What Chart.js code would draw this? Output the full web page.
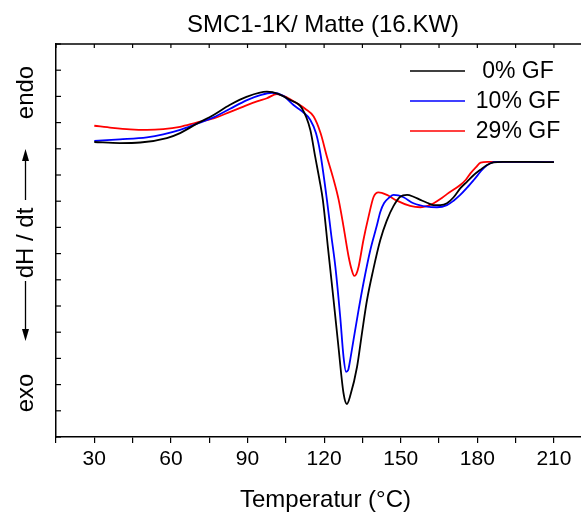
<!DOCTYPE html>
<html><head><meta charset="utf-8">
<script src="https://cdn.jsdelivr.net/npm/chart.js@4/dist/chart.umd.min.js"></script>
<style>html,body{margin:0;padding:0;background:#fff;}#wrap{width:581px;height:514px;}</style>
</head><body><div id="wrap"><canvas id="c" width="581" height="514"></canvas></div>
<script>
const titleText = 'SMC1-1K/ Matte (16.KW)';
const xTitleText = 'Temperatur (°C)';
const yLabelTop = 'endo';
const yLabelMid = 'dH / dt';
const yLabelBottom = 'exo';
const seriesLabels = ['0% GF', '10% GF', '29% GF'];
const seriesColors = ['#000000', '#0000ff', '#ff0000'];
const xTickLabels = [30, 60, 90, 120, 150, 180, 210];

// 0% GF
const temp0 = [30,40,48,58.4,63.6,70,76.7,83,89.8,97.6,102,106.7,111.3,114.6,116.5,118.2,119.5,121.5,123.7,125.5,127.6,128.9,130.3,132.9,134.8,136.8,139.2,142,144.5,147.2,149.8,152.5,155,157.7,160.3,162.9,165.5,168.1,170.7,173.3,176,178.6,181.2,183.8,186.4,190,200,210];
const dh0   = [11.26,11.22,11.24,11.41,11.60,11.95,12.29,12.67,12.99,13.18,13.10,12.86,12.55,11.72,10.70,9.81,9.05,7.23,5.23,3.55,1.67,1.26,1.60,2.68,3.95,5.23,6.37,7.52,8.25,8.82,9.17,9.24,9.17,9.05,8.94,8.85,8.85,8.92,9.15,9.49,9.75,10.0,10.2,10.38,10.48,10.50,10.50,10.49];
// 10% GF
const temp1 = [30,40,50.6,57,63.6,70,76.7,83,89.8,95,99.6,104,108,111.5,114.6,116.8,118.5,121.1,122.8,124.4,126.3,127.6,128.6,129.4,130.2,131.5,133.5,135.4,138.1,140.7,142,143.5,145.5,147.2,149,151.1,155,160.3,164.2,168.1,170.7,173.3,176,178.6,182.5,185.1,188,200,210];
const dh1   = [11.30,11.36,11.44,11.55,11.72,11.95,12.20,12.52,12.86,13.05,13.14,13.02,12.67,12.42,12.10,11.60,10.84,9.05,7.70,6.50,4.59,3.06,2.49,2.55,2.94,3.70,4.85,5.87,7.14,8.09,8.59,8.93,9.14,9.24,9.22,9.15,8.92,8.79,8.77,8.85,9.02,9.24,9.52,9.81,10.26,10.45,10.50,10.50,10.49];
// 29% GF
const temp2 = [30,37,44,50.6,57,63.6,70,76.7,83,89.8,94,97.6,101.5,105.5,109.3,112.7,115.9,118.6,121.1,123.5,125.7,127.6,129.6,130.8,131.8,132.6,133.5,135.4,137.4,139.4,141.3,144.6,148.5,153.7,157.7,160.5,162.9,165.5,168.1,173.3,175.5,177.3,179.5,181.3,184,200,210];
const dh2   = [11.88,11.80,11.74,11.72,11.75,11.84,12.0,12.16,12.40,12.67,12.82,12.93,13.09,12.96,12.74,12.52,12.23,11.6,10.70,9.9,9.05,8.03,6.88,6.38,6.15,6.22,6.50,7.52,8.41,9.17,9.34,9.24,9.02,8.82,8.77,8.82,8.92,9.08,9.27,9.62,9.82,10.06,10.30,10.47,10.50,10.50,10.49];

const temps = [temp0, temp1, temp2];
const dhs = [dh0, dh1, dh2];
const FONT = '"Liberation Sans", Arial, sans-serif';

const datasets = seriesLabels.map((lab, i) => ({
  label: lab,
  data: temps[i].map((t, k) => ({x: t, y: dhs[i][k]})),
  borderColor: seriesColors[i],
  backgroundColor: seriesColors[i],
  borderWidth: 1.8,
  pointRadius: 0,
  fill: false,
  tension: 0.4,
  cubicInterpolationMode: 'monotone'
}));

const overlay = {
  id: 'overlay',
  afterDraw(chart) {
    const ctx = chart.ctx, xs = chart.scales.x, ys = chart.scales.y, ca = chart.chartArea;
    ctx.save();
    ctx.strokeStyle = '#000'; ctx.fillStyle = '#000';
    // top frame line with inward ticks
    ctx.lineWidth = 1.5;
    ctx.beginPath(); ctx.moveTo(ca.left, ca.top); ctx.lineTo(ca.right, ca.top); ctx.stroke();
    ctx.lineWidth = 1.2;
    xs.ticks.forEach(t => {
      const px = xs.getPixelForValue(t.value);
      ctx.beginPath(); ctx.moveTo(px, ca.top); ctx.lineTo(px, ca.top + 4); ctx.stroke();
    });
    // inward y ticks
    ys.ticks.forEach(t => {
      const py = ys.getPixelForValue(t.value);
      ctx.beginPath(); ctx.moveTo(ca.left, py); ctx.lineTo(ca.left + 5, py); ctx.stroke();
    });
    // titles
    ctx.font = '24px ' + FONT;
    ctx.textAlign = 'center'; ctx.textBaseline = 'alphabetic';
    ctx.fillText(titleText, 323, 32);
    ctx.fillText(xTitleText, 325.5, 506.5);
    // y label (rotated)
    const yl = (txt, cy) => { ctx.save(); ctx.translate(33.3, cy); ctx.rotate(-Math.PI / 2); ctx.fillText(txt, 0, 0); ctx.restore(); };
    yl(yLabelTop, 92.5); yl(yLabelMid, 243); yl(yLabelBottom, 393);
    // arrows
    const ax = 25.5;
    ctx.lineWidth = 1.3;
    ctx.beginPath(); ctx.moveTo(ax, 200); ctx.lineTo(ax, 158); ctx.stroke();
    ctx.beginPath(); ctx.moveTo(ax, 149); ctx.lineTo(ax - 3.5, 161); ctx.lineTo(ax + 3.5, 161); ctx.closePath(); ctx.fill();
    ctx.beginPath(); ctx.moveTo(ax, 281); ctx.lineTo(ax, 332); ctx.stroke();
    ctx.beginPath(); ctx.moveTo(ax, 341); ctx.lineTo(ax - 3.5, 329); ctx.lineTo(ax + 3.5, 329); ctx.closePath(); ctx.fill();
    // legend
    ctx.font = '23px ' + FONT;
    ctx.textBaseline = 'middle';
    chart.data.datasets.forEach((ds, i) => {
      const y = 71 + 30 * i;
      ctx.strokeStyle = ds.borderColor; ctx.lineWidth = 1.6;
      ctx.beginPath(); ctx.moveTo(410, y); ctx.lineTo(465, y); ctx.stroke();
      ctx.fillStyle = '#000';
      ctx.fillText(ds.label, 518, y + 1);
    });
    ctx.restore();
  }
};

new Chart(document.getElementById('c'), {
  type: 'line',
  data: { datasets },
  options: {
    responsive: false,
    devicePixelRatio: 1,
    animation: false,
    layout: { padding: { top: 44, right: 0, bottom: 0, left: 0 } },
    plugins: { legend: { display: false }, title: { display: false }, tooltip: { enabled: false } },
    scales: {
      x: {
        type: 'linear', min: 15, max: 220.6,
        afterFit(s) { s.height = 77; },
        ticks: {
          stepSize: 15, includeBounds: false, autoSkip: false, maxRotation: 0, color: '#000', padding: 4,
          font: { family: FONT, size: 21 },
          callback: v => xTickLabels.includes(v) ? String(v) : ''
        },
        grid: { drawOnChartArea: false, drawTicks: true, tickLength: 6, color: '#000', lineWidth: 1.2 },
        border: { display: true, color: '#000', width: 1.5 }
      },
      y: {
        type: 'linear', min: 0, max: 15,
        afterFit(s) { s.width = 56; },
        ticks: { display: false, stepSize: 1 },
        grid: { display: false, drawTicks: false },
        border: { display: true, color: '#000', width: 1.5 }
      }
    }
  },
  plugins: [overlay]
});
</script>
</body></html>
